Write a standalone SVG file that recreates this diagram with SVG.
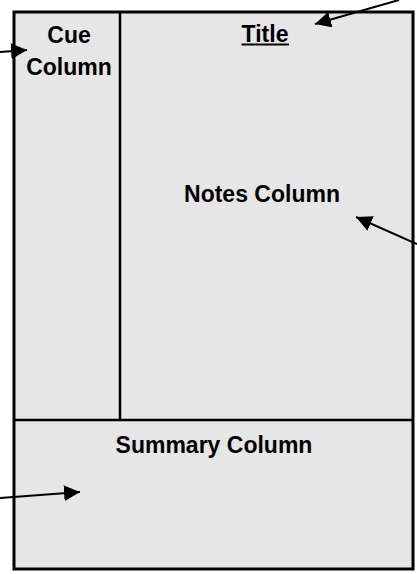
<svg xmlns="http://www.w3.org/2000/svg" width="417" height="574" viewBox="0 0 417 574">
<style>
.lbl{font-family:"Liberation Sans",Arial,sans-serif;font-weight:bold;font-size:23px;fill:#000;text-anchor:middle}
.box{fill:#e7e6e6;stroke:#000;stroke-width:3}
.div{stroke:#000;stroke-width:2.5;fill:none}
.arr{stroke:#000;stroke-width:2;fill:none;marker-end:url(#head)}
</style>
<defs>
<marker id="head" markerUnits="userSpaceOnUse" markerWidth="17" markerHeight="16" refX="16" refY="8" orient="auto">
<path d="M0,0 L16,8 L0,16 z" fill="#000"/>
</marker>
</defs>
<rect width="417" height="574" fill="#fff"/>
<g id="page">
<rect class="box" x="14" y="12" width="399" height="557"/>
</g>
<g id="cue">
<line class="div" x1="120" y1="12" x2="120" y2="420"/>
<text class="lbl" x="69" y="43">Cue</text>
<text class="lbl" x="69" y="75">Column</text>
</g>
<g id="title">
<text class="lbl" x="265" y="42">Title</text>
<line x1="241.5" y1="44.5" x2="289" y2="44.5" stroke="#000" stroke-width="2"/>
</g>
<g id="notes">
<text class="lbl" x="262" y="202">Notes Column</text>
</g>
<g id="summary">
<line class="div" x1="14" y1="420" x2="413" y2="420"/>
<text class="lbl" x="214" y="453">Summary Column</text>
</g>
<g id="connectors">
<line class="arr" x1="0" y1="52" x2="27" y2="50"/>
<line class="arr" x1="399" y1="0" x2="315" y2="24"/>
<line class="arr" x1="417" y1="244" x2="356" y2="217"/>
<line class="arr" x1="0" y1="498" x2="80" y2="492"/>
</g>
</svg>
